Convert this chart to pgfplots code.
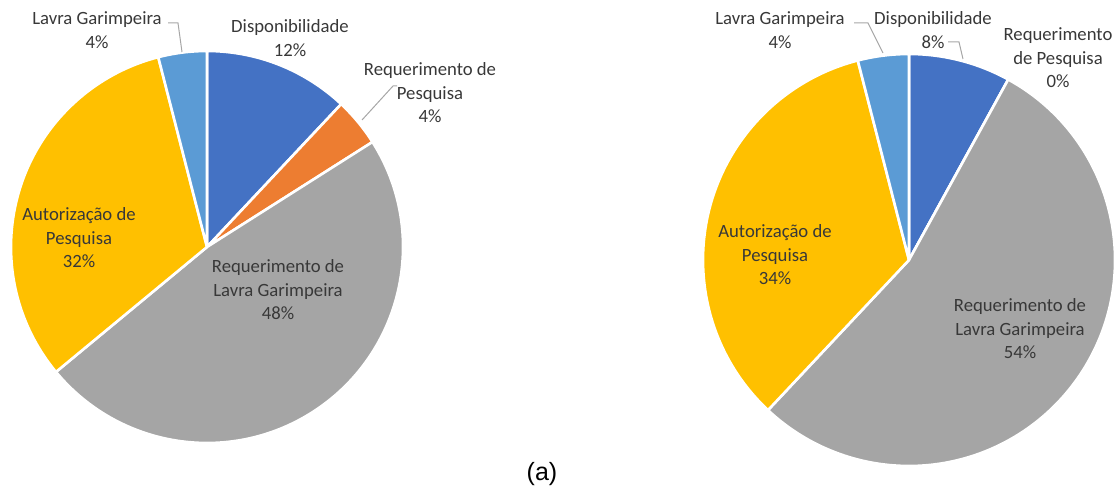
\documentclass[border=0pt]{standalone}
\usepackage{pgfplots}
\pgfplotsset{compat=1.18}
\usepackage{fontspec}
\setmainfont{Carlito}
\newfontfamily\arialfont{Liberation Sans}
\definecolor{dispo}{HTML}{4472C4}
\definecolor{reqpesq}{HTML}{ED7D31}
\definecolor{reqlavra}{HTML}{A5A5A5}
\definecolor{aut}{HTML}{FFC000}
\definecolor{lavra}{HTML}{5B9BD5}
\definecolor{txt}{HTML}{383838}
\definecolor{leader}{HTML}{A6A6A6}
\tikzset{lbl/.style={font=\fontsize{18.7}{23.5}\selectfont, text=txt, align=center, inner sep=0pt}}
% pie: center x, center y, radius, list of value/colour (clockwise from top)
\newcommand\drawpie[4]{%
  \xdef\cum{0}%
  \foreach \v/\c in {#4} {%
    \pgfmathsetmacro\aone{90-3.6*\cum}%
    \pgfmathsetmacro\atwo{90-3.6*(\cum+\v)}%
    \edef\cmd{\noexpand\fill[\c, draw=white, line width=2.6pt, line join=round] (axis cs:#1,#2) -- ++(\aone:#3pt) arc[start angle=\aone, end angle=\atwo, radius=#3pt] -- cycle;}%
    \cmd
    \pgfmathsetmacro\newcum{\cum+\v}%
    \xdef\cum{\newcum}%
  }%
}
\begin{document}
\begin{tikzpicture}
\begin{axis}[
  x=1pt, y=1pt,
  xmin=0, xmax=1117, ymin=0, ymax=496,
  hide axis, clip=false,
]
% Left pie: Disponibilidade, Req. Pesquisa, Req. Lavra Garimpeira, Autorizacao de Pesquisa, Lavra Garimpeira
\drawpie{207}{249}{196}{12/dispo, 4/reqpesq, 48/reqlavra, 32/aut, 4/lavra}
% Right pie
\drawpie{909}{236}{206}{8/dispo, 0/reqpesq, 54/reqlavra, 34/aut, 4/lavra}
% leader lines
\draw[leader, line width=1pt] (axis cs:182,444) -- (axis cs:178,473) -- (axis cs:168,473);
\draw[leader, line width=1pt] (axis cs:362,376) -- (axis cs:393,410) -- (axis cs:397,410);
\draw[leader, line width=1pt] (axis cs:883,443) -- (axis cs:868,473) -- (axis cs:854,473);
\draw[leader, line width=1pt] (axis cs:963,437) -- (axis cs:959,454) -- (axis cs:948,454);
% labels left
\node[lbl] at (axis cs:97,466) {Lavra Garimpeira\\4\%};
\node[lbl] at (axis cs:290,458) {Disponibilidade\\12\%};
\node[lbl] at (axis cs:430,403) {Requerimento de\\Pesquisa\\4\%};
\node[lbl] at (axis cs:79,258) {Autorização de\\Pesquisa\\32\%};
\node[lbl] at (axis cs:278,206) {Requerimento de\\Lavra Garimpeira\\48\%};
% labels right
\node[lbl] at (axis cs:780,466) {Lavra Garimpeira\\4\%};
\node[lbl] at (axis cs:933,466) {Disponibilidade\\8\%};
\node[lbl] at (axis cs:1058,438) {Requerimento\\de Pesquisa\\0\%};
\node[lbl] at (axis cs:775,241) {Autorização de\\Pesquisa\\34\%};
\node[lbl] at (axis cs:1020,167) {Requerimento de\\Lavra Garimpeira\\54\%};
\node[font=\arialfont\fontsize{25}{28}\selectfont, text=black, inner sep=0pt] at (axis cs:542,22) {(a)};
\end{axis}
\pgfresetboundingbox
\useasboundingbox (current axis.south west) rectangle (current axis.north east);
\end{tikzpicture}
\end{document}
